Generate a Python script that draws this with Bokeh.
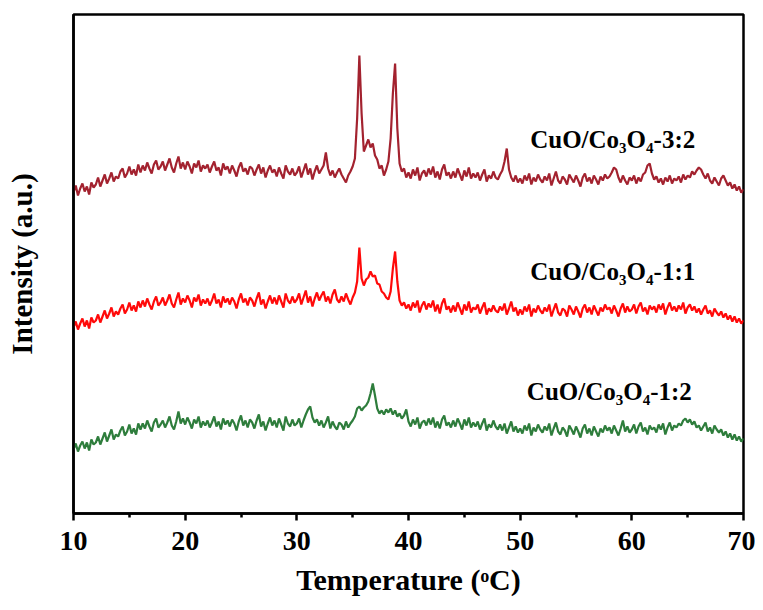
from bokeh.plotting import figure
from bokeh.models import Range1d, Label, FixedTicker, ColumnDataSource
from bokeh.embed import file_html
from bokeh.resources import INLINE

# Sampling grid: 10..70 deg in 0.2 steps (301 points)
x_vals = [round(10 + 0.2 * i, 1) for i in range(301)]

# CuO/Co3O4-3:2 (top, dark red) - arbitrary intensity units
top_series = [
    321, 328, 318, 325, 330, 322, 327, 319, 331, 326,
    329, 336, 327, 333, 339, 330, 335, 341, 332, 337,
    335, 342, 345, 336, 340, 347, 339, 344, 338, 349,
    341, 348, 343, 351, 345, 340, 349, 353, 344, 347,
    352, 343, 349, 355, 346, 341, 350, 357, 345, 351,
    344, 352, 347, 340, 350, 346, 353, 342, 348, 345,
    349, 341, 347, 352, 343, 346, 338, 350, 344, 347,
    340, 348, 343, 337, 346, 351, 342, 345, 339, 347,
    345, 338, 344, 349, 340, 346, 336, 343, 348, 341,
    344, 337, 346, 340, 335, 348, 342, 339, 345, 338,
    341, 347, 336, 343, 350, 339, 345, 334, 342, 348,
    340, 344, 348, 361, 345, 338, 343, 336, 341, 345,
    339, 335, 331, 338, 342, 347, 355, 395, 458, 400,
    362, 368, 374, 366, 370, 358, 354, 345, 348, 338,
    344, 352, 375, 420, 450, 385, 350, 342, 345, 336,
    341, 335, 344, 338, 346, 333, 340, 343, 337, 345,
    339, 347, 336, 342, 334, 344, 349, 338, 341, 335,
    342, 336, 345, 339, 333, 343, 337, 346, 335, 340,
    336, 341, 333, 339, 344, 332, 338, 335, 342, 336,
    334, 339, 343, 352, 365, 344, 336, 332, 338, 331,
    335, 330, 338, 333, 340, 329, 336, 332, 339, 334,
    331, 337, 333, 340, 328, 335, 342, 333, 330, 337,
    334, 329, 339, 335, 331, 338, 333, 327, 336, 340,
    332, 336, 330, 338, 334, 329, 337, 333, 339, 335,
    337, 341, 346, 344, 336, 331, 338, 333, 329, 336,
    333, 338, 330, 336, 332, 339, 341, 348, 350, 340,
    334, 337, 331, 335, 329, 336, 332, 338, 330, 335,
    333, 337, 331, 339, 334, 338, 336, 342, 339, 343,
    346, 344, 339, 335, 340, 333, 330, 336, 332, 328,
    335, 338, 333, 328, 331, 325, 329, 323, 327, 321,
    324,
]

# CuO/Co3O4-1:1 (middle, red)
mid_series = [
    186, 192, 184, 190, 195, 187, 193, 185, 196, 191,
    193, 199, 191, 197, 203, 195, 200, 206, 197, 202,
    199, 205, 209, 200, 204, 211, 203, 208, 202, 212,
    206, 213, 207, 215, 209, 204, 212, 217, 208, 211,
    216, 208, 213, 219, 210, 206, 214, 221, 209, 215,
    211, 218, 213, 206, 216, 212, 219, 208, 214, 210,
    215, 208, 213, 220, 210, 214, 206, 217, 211, 215,
    209, 216, 212, 205, 214, 220, 211, 215, 208, 216,
    213, 207, 215, 221, 209, 214, 205, 212, 218, 210,
    216, 209, 218, 212, 206, 220, 213, 210, 217, 211,
    214, 220, 209, 216, 223, 211, 217, 207, 215, 221,
    213, 218, 222, 212, 217, 210, 219, 224, 214, 211,
    217, 212, 220, 214, 209, 216, 221, 232, 266, 235,
    228, 234, 236, 242, 237, 238, 230, 229, 222, 220,
    216, 214, 222, 245, 262, 232, 213, 208, 211, 205,
    209, 203, 211, 206, 213, 201, 208, 212, 204, 210,
    206, 213, 202, 209, 200, 210, 215, 204, 207, 201,
    208, 202, 211, 205, 199, 209, 203, 212, 201, 206,
    204, 209, 200, 206, 211, 199, 205, 202, 208, 203,
    201, 207, 203, 210, 199, 205, 212, 202, 206, 198,
    204, 199, 207, 202, 209, 197, 205, 201, 208, 203,
    200, 206, 202, 209, 197, 204, 210, 201, 198, 205,
    203, 197, 208, 204, 199, 207, 202, 196, 205, 209,
    201, 206, 199, 208, 203, 198, 206, 202, 209, 204,
    206, 200, 208, 203, 197, 205, 210, 201, 207, 202,
    204, 209, 200, 207, 211, 202, 206, 199, 208, 204,
    207, 201, 209, 204, 210, 199, 206, 211, 203, 207,
    202, 208, 204, 211, 200, 206, 209, 203, 207, 201,
    205, 199, 204, 208, 200, 203, 197, 205, 201, 198,
    202, 196, 200, 194, 198, 192, 197, 191, 195, 190,
    193,
]

# CuO/Co3O4-1:2 (bottom, green)
bot_series = [
    64, 70, 62, 68, 72, 65, 71, 63, 74, 69,
    71, 77, 69, 75, 81, 72, 78, 84, 74, 79,
    77, 83, 87, 78, 82, 89, 80, 85, 79, 90,
    84, 90, 85, 93, 87, 82, 91, 95, 86, 89,
    93, 86, 91, 97, 88, 84, 92, 102, 90, 95,
    89, 96, 91, 85, 94, 90, 97, 86, 92, 88,
    93, 86, 91, 97, 87, 92, 84, 95, 89, 93,
    87, 94, 90, 83, 92, 98, 88, 93, 86, 94,
    91, 85, 93, 99, 87, 92, 83, 90, 96, 88,
    93, 86, 95, 89, 83, 97, 90, 87, 94, 88,
    90, 95, 86, 93, 99, 104, 107, 96, 91, 94,
    88, 93, 86, 91, 97, 85, 92, 87, 84, 91,
    89, 84, 92, 86, 90, 93, 97, 105, 107, 103,
    106, 108, 112, 120, 130, 118, 105, 100, 103, 99,
    104, 101, 105, 99, 103, 97, 100, 95, 98, 104,
    92, 87, 94, 89, 96, 85, 91, 93, 88, 95,
    89, 96, 86, 92, 85, 94, 98, 88, 91, 86,
    93, 87, 95, 90, 84, 94, 88, 96, 86, 91,
    87, 92, 84, 90, 95, 83, 89, 86, 93, 87,
    84, 89, 83, 90, 80, 86, 92, 82, 87, 81,
    85, 80, 88, 83, 90, 78, 86, 82, 89, 84,
    81, 87, 83, 90, 78, 85, 91, 82, 79, 86,
    83, 77, 88, 84, 79, 87, 82, 76, 85, 89,
    80, 85, 78, 87, 82, 77, 85, 81, 88, 83,
    86, 80, 88, 83, 78, 85, 93, 82, 87, 81,
    84, 89, 80, 87, 91, 82, 86, 79, 88, 84,
    86, 81, 89, 84, 90, 79, 86, 91, 83, 88,
    86, 90, 88, 93, 95, 91, 94, 89, 92, 86,
    88, 83, 87, 91, 82, 86, 80, 88, 84, 81,
    84, 78, 82, 76, 80, 74, 79, 73, 77, 72,
    75,
]

series_names = ["CuO/Co₃O₄-3:2", "CuO/Co₃O₄-1:1", "CuO/Co₃O₄-1:2"]
series_colors = ["#A3222F", "#FF0A0A", "#2E7D3C"]
label_x = [50.9, 50.9, 50.6]
label_y = [374, 242, 122]

x_ticks = [10, 20, 30, 40, 50, 60, 70]
x_minor = [15, 25, 35, 45, 55, 65]

FONT = "Liberation Serif"

src = ColumnDataSource(dict(x=x_vals, top=top_series, mid=mid_series, bot=bot_series))

p = figure(width=755, height=602, output_backend="svg", toolbar_location=None,
           x_range=Range1d(10, 70), y_range=Range1d(0, 499),
           min_border_left=73, min_border_right=12, min_border_top=14,
           min_border_bottom=89)
p.background_fill_color = "white"
p.border_fill_color = "white"
p.grid.visible = False
p.outline_line_color = "black"
p.outline_line_width = 2.5

for col, color in zip(["top", "mid", "bot"], series_colors):
    p.line("x", col, source=src, line_color=color, line_width=2.2)

for name, color, lx, ly in zip(series_names, series_colors, label_x, label_y):
    p.add_layout(Label(x=lx, y=ly, text=name, text_font=FONT, text_font_style="bold",
                       text_font_size="25px", text_color="black",
                       text_baseline="alphabetic", text_align="left"))

xa = p.xaxis[0]
xa.ticker = FixedTicker(ticks=x_ticks, minor_ticks=x_minor)
xa.axis_line_width = 2.5
xa.major_tick_line_width = 2.5
xa.minor_tick_line_width = 2.5
xa.major_tick_out = 7
xa.major_tick_in = 0
xa.minor_tick_out = 4
xa.minor_tick_in = 0
xa.major_label_text_font = FONT
xa.major_label_text_font_style = "bold"
xa.major_label_text_font_size = "28px"
xa.major_label_text_color = "black"
xa.major_label_standoff = 11
xa.axis_label = "Temperature (ᵒC)"
xa.axis_label_text_font = FONT
xa.axis_label_text_font_style = "bold"
xa.axis_label_text_font_size = "30px"
xa.axis_label_text_color = "black"
xa.axis_label_standoff = 10

ya = p.yaxis[0]
ya.ticker = FixedTicker(ticks=[])
ya.axis_line_width = 2.5
ya.major_tick_out = 0
ya.major_tick_in = 0
ya.minor_tick_out = 0
ya.minor_tick_in = 0
ya.major_label_text_font_size = "0px"
ya.axis_label = "Intensity (a.u.)"
ya.axis_label_text_font = FONT
ya.axis_label_text_font_style = "bold"
ya.axis_label_text_font_size = "29px"
ya.axis_label_text_color = "black"
ya.axis_label_standoff = 36

open("out.html", "w").write(file_html(p, INLINE))
